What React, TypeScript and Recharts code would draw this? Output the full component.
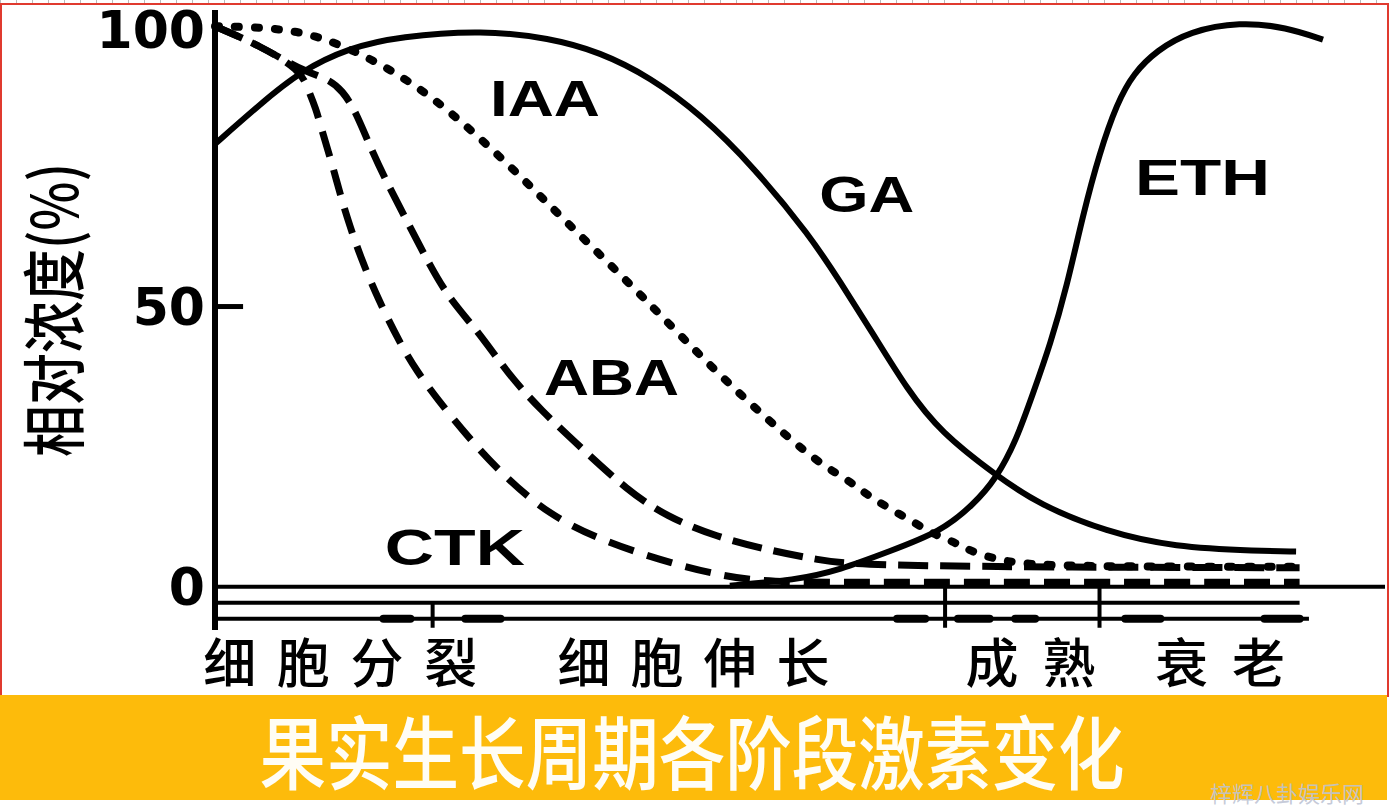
import { LineChart, Line, XAxis, YAxis, ReferenceLine, ReferenceDot } from 'recharts';

// x = position along the growth period (0-100), v = relative concentration (%)
const gaT = [0, 3.8, 7.3, 11.5, 15.8, 22.9, 28.6, 32.9, 37.2, 41.5, 46, 50.9, 53.4, 56.2, 59.2, 62, 66.8, 70.5, 76.2, 81.9, 89.3, 92.4];
const gaV = [79, 86, 92, 96.2, 98.2, 99.3, 97.9, 95.4, 90.9, 84.3, 75, 62.5, 54.5, 45.3, 35.1, 27.6, 19.8, 14.6, 9.8, 7.1, 6.4, 6.3];

const ethT = [44, 49.6, 53.4, 57.7, 62, 64.8, 66.8, 68.5, 69.9, 71.4, 72.8, 74.2, 75.6, 77.1, 78.5, 80.5, 83.3, 87.6, 91.6, 94.7];
const ethV = [0.2, 1.2, 3, 6.4, 9.8, 14.6, 19.4, 26.2, 34.4, 43.3, 53.5, 66.5, 77.4, 86.3, 91.6, 95.7, 99.1, 100.8, 99.8, 97.6];

const iaaT = [0, 4.4, 8.4, 13.2, 18.6, 25, 30.1, 36.3, 43.2, 51.1, 53.9, 55.6, 57.7, 60, 61.4, 63.4, 64.8, 67.5, 71.4, 92.7];
const iaaV = [100, 99.8, 98.7, 94.5, 87.7, 75.6, 64.9, 52.4, 37.4, 22.6, 19.4, 16.6, 13.9, 11.2, 9.4, 7.8, 6.1, 4.5, 3.6, 3.6];

const abaT = [0, 3.8, 7.3, 9.7, 10.9, 12, 13.2, 14.5, 16.5, 18.4, 20.1, 22.6, 25, 27.8, 31.5, 35.2, 38.6, 42.9, 47.2, 51.5, 55.7, 92.7];
const abaV = [100, 96.6, 92.2, 90.6, 88.5, 84.9, 78.8, 72.9, 64.9, 57.2, 51.2, 45.3, 38.1, 31.6, 24.4, 17.3, 12.5, 8.9, 6.6, 4.8, 3.6, 3.4];

const ctkT = [0, 3.8, 7.3, 7.9, 8.6, 9.2, 10, 10.7, 11.5, 12.5, 13.9, 15.8, 17.3, 19, 21.5, 24.8, 28.6, 32.9, 38, 42.9, 47.2, 55.7, 92.7];
const ctkV = [100, 96.6, 92.2, 89, 85.5, 81, 75.5, 70, 64.5, 58.5, 51.5, 43.5, 38.3, 33.5, 27, 19.5, 12.8, 8.4, 4.8, 2.1, 0.8, 0.8, 0.8];

const yTicks = [0, 50, 100];

const stageNames = ['细胞分裂', '细胞伸长', '成熟', '衰老'];
const stageCenters = [10.7, 40.9, 69.7, 85.9];
const stageBounds = [18.6, 62.4, 75.6];

const curveNames = ['IAA', 'GA', 'ETH', 'ABA', 'CTK'];
const curveNameT = [28.2, 55.7, 84.4, 33.9, 20.5];
const curveNameV = [87, 69.9, 72.9, 37.3, 7];

const toPoints = (ts: number[], vs: number[]) => ts.map((t, i) => ({ t, v: vs[i] }));

const gaData = toPoints(gaT, gaV);
const ethData = toPoints(ethT, ethV);
const iaaData = toPoints(iaaT, iaaV);
const abaData = toPoints(abaT, abaV);
const ctkData = toPoints(ctkT, ctkV);

const stageWidths = [274, 272, 130, 130];
const nameWidths = [110, 95, 135, 135, 140];

// lumps drawn on the stage arrow line
const blobs = [[14.4, 16.7], [21.4, 24.4], [58.3, 60.7], [63.5, 66.2], [68.4, 70.1], [77.8, 80.8], [89.7, 92.7]];

const StageTick = (props: any) => {
  const { x, y, payload } = props;
  const i = stageCenters.indexOf(payload.value);
  if (i < 0) return null;
  return (
    <text x={x} y={y + 30} textAnchor="middle" dominantBaseline="central" fontFamily="Noto Sans CJK SC" fontWeight={500} fontSize={53} fill="#000" textLength={stageWidths[i]} lengthAdjust="spacing">
      {stageNames[i]}
    </text>
  );
};

const nameLabel = (i: number) => (props: any) => {
  const vb = props.viewBox || {};
  const cx = vb.x + vb.width / 2;
  const cy = vb.y + vb.height / 2;
  return (
    <text x={cx} y={cy} textAnchor="middle" dominantBaseline="central" fontFamily="Liberation Sans" fontWeight="bold" fontSize={50} fill="#000" textLength={nameWidths[i]} lengthAdjust="spacingAndGlyphs">
      {curveNames[i]}
    </text>
  );
};

const YTitle = () => (
  <text x={50} y={310} transform="rotate(-90 50 310)" textAnchor="middle" dominantBaseline="central" fontFamily="Noto Sans CJK SC" fontWeight={500} fontSize={64} fill="#000" textLength={294} lengthAdjust="spacingAndGlyphs">
    相对浓度(%)
  </text>
);

export default function App() {
  return (
    <div style={{ position: 'fixed', left: 0, top: 0, width: 1392, height: 808, background: '#fff', overflow: 'hidden' }}>
      {/* ruler ticks + red frame of the screenshot */}
      <div style={{ position: 'absolute', left: 0, top: 0, width: 1392, height: 3, background: 'repeating-linear-gradient(90deg, #bbb 0 1px, transparent 1px 16px)' }} />
      <div style={{ position: 'absolute', left: 0, top: 3, width: 1385, height: 692, border: '2px solid #e03a2f', borderBottom: 'none' }} />

      <div style={{ position: 'absolute', left: 0, top: 0 }}>
        <LineChart width={1392} height={700} margin={{ top: 10, right: 7, bottom: 10, left: 155 }}>
          <XAxis dataKey="t" type="number" domain={[0, 100]} ticks={stageCenters} interval={0} tickLine={false} axisLine={false} height={60} tickSize={0} tickMargin={0} tick={<StageTick />} />
          <YAxis type="number" domain={[-7.7, 102.9]} ticks={yTicks} width={60} tickSize={0} tickMargin={10} axisLine={{ stroke: '#000', strokeWidth: 6 }} tickLine={false} tick={{ fill: '#000', fontSize: 52, fontFamily: 'DejaVu Sans', fontWeight: 'bold' }} label={YTitle} />

          <ReferenceLine y={0} stroke="#000" strokeWidth={4} />
          <ReferenceLine segment={[{ x: 0, y: -2.85 }, { x: 92.7, y: -2.85 }]} stroke="#000" strokeWidth={4} />
          <ReferenceLine segment={[{ x: 0, y: -5.7 }, { x: 93.5, y: -5.7 }]} stroke="#000" strokeWidth={4} />
          {blobs.map((b, i) => (
            <ReferenceLine key={`b${i}`} segment={[{ x: b[0], y: -5.7 }, { x: b[1], y: -5.7 }]} stroke="#000" strokeWidth={8} strokeLinecap="round" />
          ))}
          <ReferenceLine segment={[{ x: stageBounds[0], y: -2.85 }, { x: stageBounds[0], y: -7.3 }]} stroke="#000" strokeWidth={4} />
          <ReferenceLine segment={[{ x: stageBounds[1], y: 0 }, { x: stageBounds[1], y: -7.3 }]} stroke="#000" strokeWidth={4} />
          <ReferenceLine segment={[{ x: stageBounds[2], y: 0 }, { x: stageBounds[2], y: -7.3 }]} stroke="#000" strokeWidth={4} />
          <ReferenceLine segment={[{ x: 0, y: 50 }, { x: 2.4, y: 50 }]} stroke="#000" strokeWidth={5} />

          <Line data={gaData} dataKey="v" type="basis" stroke="#000" strokeWidth={6} dot={false} isAnimationActive={false} />
          <Line data={ethData} dataKey="v" type="basis" stroke="#000" strokeWidth={6} dot={false} isAnimationActive={false} />
          <Line data={iaaData} dataKey="v" type="basis" stroke="#000" strokeWidth={8} strokeDasharray="4 16" strokeLinecap="round" dot={false} isAnimationActive={false} />
          <Line data={abaData} dataKey="v" type="basis" stroke="#000" strokeWidth={7} strokeDasharray="30 12" dot={false} isAnimationActive={false} />
          <Line data={ctkData} dataKey="v" type="basis" stroke="#000" strokeWidth={7} strokeDasharray="26 14" dot={false} isAnimationActive={false} />

          {curveNames.map((n, i) => (
            <ReferenceDot key={n} x={curveNameT[i]} y={curveNameV[i]} r={10} fill="none" stroke="none" label={nameLabel(i)} />
          ))}
        </LineChart>
      </div>

      {/* title banner */}
      <div style={{ position: 'absolute', left: 0, top: 695, width: 1387, height: 105, background: '#FDBB0B' }}>
        <svg width={1387} height={105} style={{ display: 'block', overflow: 'visible' }}>
          <text x={692} y={53} textAnchor="middle" dominantBaseline="central" fontFamily="Noto Sans CJK SC" fontWeight={500} fontSize={80} fill="#fffdf5" textLength={865} lengthAdjust="spacingAndGlyphs">
            果实生长周期各阶段激素变化
          </text>
        </svg>
      </div>
      <div style={{ position: 'absolute', left: 1210, top: 781, fontFamily: 'Noto Sans CJK SC', fontSize: 22, lineHeight: '22px', color: 'rgba(190,196,212,0.9)', whiteSpace: 'nowrap' }}>
        梓辉八卦娱乐网
      </div>
    </div>
  );
}
